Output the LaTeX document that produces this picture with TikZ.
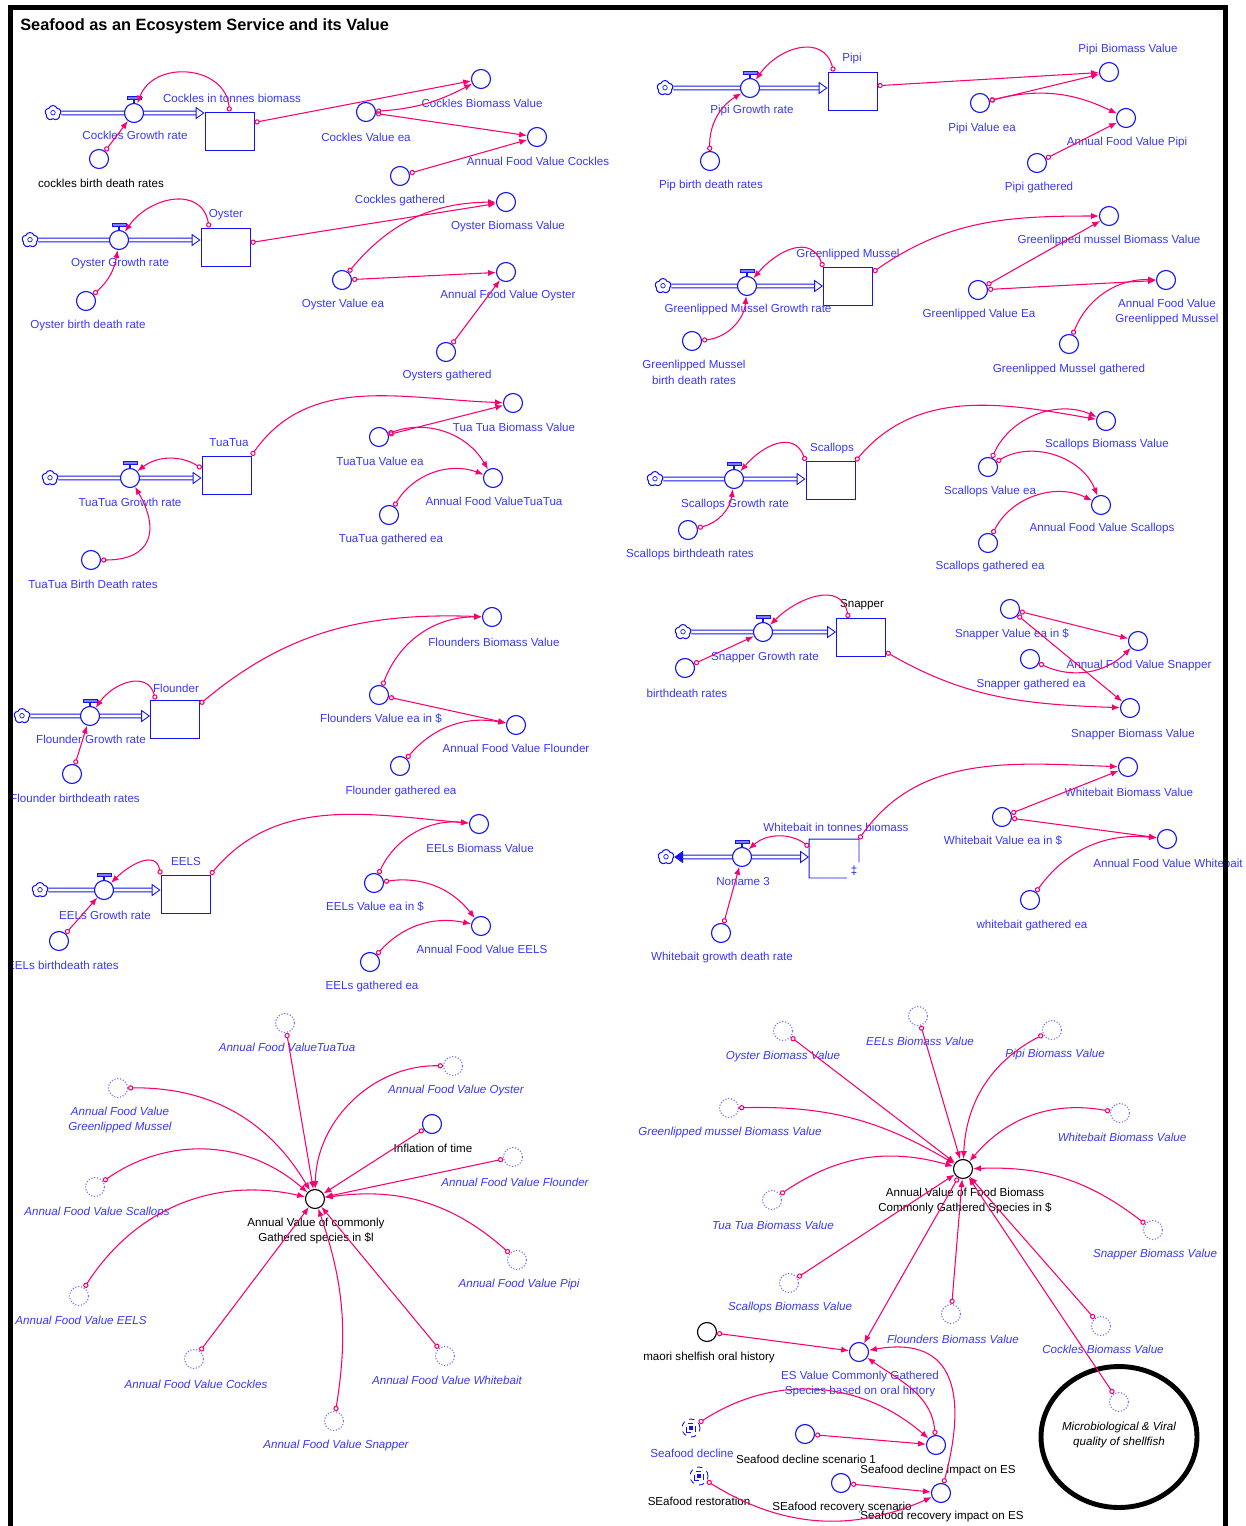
\documentclass[tikz,border=0pt]{standalone}
\usepackage{fontspec}
\setmainfont{Liberation Sans}
\usepackage{tikz}
\usetikzlibrary{arrows.meta,calc,positioning,shapes.geometric,shapes.symbols}
\definecolor{StockBlue}{RGB}{20,20,240}
\definecolor{LabelBlue}{RGB}{55,55,255}
\definecolor{GhostBlue}{RGB}{110,110,255}
\definecolor{LinkPink}{RGB}{250,0,110}
\newcommand{\lblsize}{\fontsize{6.6}{9}\selectfont}
\newcommand{\flowvalve}[2]{%
  \node[conv] (#1) at (#2) {};
  \draw[StockBlue,line width=0.9pt] (#1.north) -- ++(0,2.2pt);
  \draw[StockBlue,fill=StockBlue!55,line width=0.5pt]
    ([shift={(-4pt,2.2pt)}]#1.north) rectangle ++(8pt,1.7pt);
}
\newcommand{\auxvar}[5][lbl]{%
  \node[auxv] (#2) at (#3) {};
  \node[#1] (#2-l) at (#4) {#5};
}
\newcommand{\ghostvar}[4]{%
  \node[ghostv] (#1) at (#2) {};
  \node[glbl] (#1-l) at (#3) {#4};
}

\begin{document}
\begin{tikzpicture}[x=0.02cm,y=-0.02cm,
  auxv/.style={circle,draw=StockBlue,line width=0.65pt,minimum size=0.38cm,inner sep=0pt,fill=white},
  conv/.style={auxv},
  sum/.style={auxv,draw=black},
  ghostv/.style={circle,draw=GhostBlue,densely dotted,line width=0.65pt,minimum size=0.38cm,inner sep=0pt},
  tablev/.style={circle,draw=StockBlue,dashed,line width=0.5pt,minimum size=0.36cm,inner sep=0pt,
    path picture={
      \draw[StockBlue,line width=0.9pt] ([shift={(-2.6pt,-2.6pt)}]path picture bounding box.center) rectangle ++(5.2pt,5.2pt);
      \fill[StockBlue] ([shift={(-1pt,-1.3pt)}]path picture bounding box.center) rectangle ++(2pt,2.6pt);}},
  stock/.style={rectangle,draw=StockBlue,line width=0.55pt,minimum width=0.98cm,minimum height=0.76cm,inner sep=0pt},
  source/.style={cloud,cloud puffs=5,cloud puff arc=140,draw=StockBlue,line width=0.6pt,
    minimum width=0.32cm,minimum height=0.3cm,inner sep=0pt,
    path picture={\draw[StockBlue,line width=0.4pt] (path picture bounding box.center) circle (1.3pt);}},
  pipe/.style={draw=StockBlue,double=white,double distance=1.6pt,line width=0.5pt,-{Triangle[open,length=5pt,width=7pt]}},
  link/.style={draw=LinkPink,line width=0.6pt,{Circle[open,length=3pt]}-{Latex[length=4.5pt,width=3.5pt]}},
  lbl/.style={text=LabelBlue,font=\lblsize,align=center,inner sep=0pt},
  blbl/.style={lbl,text=black},
  glbl/.style={lbl,font=\lblsize\itshape}]
\useasboundingbox (0,0) rectangle (1246,1526);
\node[anchor=west,inner sep=0pt,font=\bfseries\fontsize{9.3}{11}\selectfont] (title) at (20,26)
  {Seafood as an Ecosystem Service and its Value};

% cockles
\node[source] (cc) at (53,113) {};
\node[stock] (cst) at (229.5,131) {};
\draw[pipe] (cc) -- (cst.west |- cc);
\flowvalve{cgr}{134,113}
\node[lbl] (cst-l) at (232,98) {Cockles in tonnes biomass};
\node[lbl] (cgr-l) at (135,135) {Cockles Growth rate};
\auxvar[blbl]{cbd}{99,159}{101,183}{cockles birth death rates}
\auxvar{cbv}{481,79}{482,103}{Cockles Biomass Value}
\auxvar{cve}{366,112}{366,137}{Cockles Value ea}
\auxvar{cafv}{537,137}{538,161}{Annual Food Value Cockles}
\auxvar{cga}{400,176}{400,200}{Cockles gathered}
\draw[link] (cbd) -- (cgr);
\draw[link] (cst.north) to[out=95,in=70,looseness=1.3] (cgr);
\draw[link] (cst.19) -- (cbv);
\draw[link] (cve) to[bend right=12] (cbv);
\draw[link] (cve) -- (cafv);
\draw[link] (cga) -- (cafv);

% oyster
\node[source] (oc) at (30,240) {};
\node[stock] (ost) at (225.5,247) {};
\draw[pipe] (oc) -- (ost.west |- oc);
\flowvalve{ogr}{119,240}
\node[lbl] (ost-l) at (226,215) {Oyster};
\node[lbl] (ogr-l) at (120,263) {Oyster Growth rate};
\auxvar{obd}{86,301}{88,325}{Oyster birth death rate}
\auxvar{obv}{506,202}{508,226}{Oyster Biomass Value}
\auxvar{ove}{342,280}{343,304}{Oyster Value ea}
\auxvar{oafv}{506,272}{508,295}{Annual Food Value Oyster}
\auxvar{oga}{446,352}{447,375}{Oysters gathered}
\draw[link] (obd) to[bend right=20] (ogr);
\draw[link] (ost.130) to[out=100,in=55,looseness=1.3] (ogr);
\draw[link] (ost.10) -- (obv);
\draw[link] (ove) to[bend left=25] (obv);
\draw[link] (ove) -- (oafv);
\draw[link] (oga) -- (oafv);

% tuatua
\node[source] (tc) at (50,478) {};
\node[stock] (tst) at (226.5,475) {};
\draw[pipe] (tc) -- (tst.west |- tc);
\flowvalve{tgr}{130,478}
\node[lbl] (tst-l) at (229,443) {TuaTua};
\node[lbl] (tgr-l) at (130,502) {TuaTua Growth rate};
\auxvar{tbd}{91,560}{93,584}{TuaTua Birth Death rates}
\auxvar{tbv}{513,403}{514,427}{Tua Tua Biomass Value}
\auxvar{tve}{379,437}{380,461}{TuaTua Value ea}
\auxvar{tafv}{493,478}{494,501}{Annual Food ValueTuaTua}
\auxvar{tga}{389,515}{391,539}{TuaTua gathered ea}
\draw[link] (tbd) to[out=0,in=-60,looseness=1.6] (tgr);
\draw[link] (tst.165) to[bend right=35] (tgr);
\draw[link] (tst.north east) to[out=55,in=178] (tbv);
\draw[link] (tve) -- (tbv);
\draw[link] (tve) to[bend left=40] (tafv);
\draw[link] (tga) to[bend left=40] (tafv);

% flounder
\node[source] (fc) at (22,716) {};
\node[stock] (fst) at (175,719) {};
\draw[pipe] (fc) -- (fst.west |- fc);
\flowvalve{fgr}{90,716}
\node[lbl] (fst-l) at (176,688) {Flounder};
\node[lbl] (fgr-l) at (91,739) {Flounder Growth rate};
\auxvar{fbd}{72,774}{75,798}{Flounder birthdeath rates}
\auxvar{fbv}{492,617}{494,642}{Flounders Biomass Value}
\auxvar{fve}{379,695}{381,719}{Flounders Value ea in \$}
\auxvar{fafv}{516,725}{516,748}{Annual Food Value Flounder}
\auxvar{fga}{400,766}{401,791}{Flounder gathered ea}
\draw[link] (fbd) -- (fgr);
\draw[link] (fst.135) to[out=105,in=55,looseness=1.3] (fgr);
\draw[link] (fst.31) to[out=40,in=178] (fbv);
\draw[link] (fve) to[bend left=35] (fbv);
\draw[link] (fve) -- (fafv);
\draw[link] (fga) to[bend left=30] (fafv);

% eels
\node[source] (ec) at (40,890) {};
\node[stock] (est) at (185.5,894) {};
\draw[pipe] (ec) -- (est.west |- ec);
\flowvalve{egr}{104,890}
\node[lbl] (est-l) at (186,861) {EELS};
\node[lbl] (egr-l) at (105,915) {EELs Growth rate};
\auxvar{ebd}{59,941}{63,965}{EELs birthdeath rates}
\auxvar{ebv}{479,824}{480,848}{EELs Biomass Value}
\auxvar{eve}{374,883}{375,907}{EELs Value ea in \$}
\auxvar{eafv}{481,926}{482,949}{Annual Food Value EELS}
\auxvar{ega}{370,962}{372,986}{EELs gathered ea}
\draw[link] (ebd) -- (egr);
\draw[link] (est.north west) to[out=100,in=45,looseness=1.3] (egr);
\draw[link] (est.north east) to[out=50,in=175] (ebv);
\draw[link] (eve) to[bend left=35] (ebv);
\draw[link] (eve) to[bend left=30] (eafv);
\draw[link] (ega) to[bend left=30] (eafv);

% pipi
\node[source] (pc) at (665,88) {};
\node[stock] (pst) at (852.5,91) {};
\draw[pipe] (pc) -- (pst.west |- pc);
\flowvalve{pgr}{750,88}
\node[lbl] (pst-l) at (852,58) {Pipi};
\node[lbl] (pgr-l) at (752,110) {Pipi Growth rate};
\auxvar{pbd}{710,161}{711,185}{Pip birth death rates}
\auxvar{pbv}{1109,72}{1128,49}{Pipi Biomass Value}
\auxvar{pve}{980,103}{982,128}{Pipi Value ea}
\auxvar{pafv}{1126,118}{1127,142}{Annual Food Value Pipi}
\auxvar{pga}{1037,163}{1039,187}{Pipi gathered}
\draw[link] (pbd) to[bend left=30] (pgr);
\draw[link] (pst.134) to[out=105,in=55,looseness=1.3] (pgr);
\draw[link] (pst.12) -- (pbv);
\draw[link] (pve) -- (pbv);
\draw[link] (pve) to[bend left=20] (pafv);
\draw[link] (pga) -- (pafv);

% greenlipped mussel
\node[source] (gc) at (663,286) {};
\node[stock] (gst) at (848,286.5) {};
\draw[pipe] (gc) -- (gst.west |- gc);
\flowvalve{ggr}{747,286}
\node[lbl] (gst-l) at (848,254) {Greenlipped Mussel};
\node[lbl] (ggr-l) at (748,309) {Greenlipped Mussel Growth rate};
\auxvar{gbd}{692,341}{694,372}{Greenlipped Mussel\\birth death rates}
\auxvar{gbv}{1109,216}{1109,240}{Greenlipped mussel Biomass Value}
\auxvar{gve}{978,290}{979,314}{Greenlipped Value Ea}
\auxvar{gafv}{1166,280}{1167,312}{Annual Food Value\\Greenlipped Mussel}
\auxvar{gga}{1069,344}{1069,369}{Greenlipped Mussel gathered}
\draw[link] (gbd) to[bend right=40] (ggr);
\draw[link] (gst.north west) to[out=110,in=50,looseness=1.3] (ggr);
\draw[link] (gst.30) to[out=35,in=180] (gbv);
\draw[link] (gve) -- (gbv);
\draw[link] (gve) -- (gafv);
\draw[link] (gga) to[bend left=35] (gafv);

% scallops
\node[source] (sc) at (655,479) {};
\node[stock] (sst) at (830.5,480.5) {};
\draw[pipe] (sc) -- (sst.west |- sc);
\flowvalve{sgr}{734,479}
\node[lbl] (sst-l) at (832,448) {Scallops};
\node[lbl] (sgr-l) at (735,504) {Scallops Growth rate};
\auxvar{sbd}{688,530}{690,554}{Scallops birthdeath rates}
\auxvar{sbv}{1106,421}{1107,444}{Scallops Biomass Value}
\auxvar{sve}{988,467}{990,491}{Scallops Value ea}
\auxvar{safv}{1101,505}{1102,528}{Annual Food Value Scallops}
\auxvar{sga}{988,543}{990,566}{Scallops gathered ea}
\draw[link] (sbd) to[bend right=35] (sgr);
\draw[link] (sst.north west) to[out=110,in=50,looseness=1.3] (sgr);
\draw[link] (sst.north east) to[out=50,in=170] (sbv);
\draw[link] (sve) to[bend left=45] (sbv);
\draw[link] (sve) to[bend left=50] (safv);
\draw[link] (sga) to[bend left=45] (safv);

% snapper
\node[source] (nc) at (683,632) {};
\node[stock] (nst) at (861,637.5) {};
\draw[pipe] (nc) -- (nst.west |- nc);
\flowvalve{ngr}{763,632}
\node[blbl] (nst-l) at (862,605) {Snapper};
\node[lbl] (ngr-l) at (765,657) {Snapper Growth rate};
\auxvar{nbd}{685,668}{687,693}{birthdeath rates}
\auxvar{nve}{1010,609}{1012,634}{Snapper Value ea in \$}
\auxvar{nga}{1030,659}{1031,684}{Snapper gathered ea}
\auxvar{nafv}{1138,641}{1139,665}{Annual Food Value Snapper}
\auxvar{nbv}{1130,708}{1133,734}{Snapper Biomass Value}
\draw[link] (nbd) -- (ngr);
\draw[link] (nst.123) to[out=100,in=45,looseness=1.25] (ngr);
\draw[link] (nve) -- (nafv);
\draw[link] (nve) -- (nbv);
\draw[link] (nga) to[bend right=35] (nafv);
\draw[link] (nst.-30) to[out=-30,in=178] (nbv);

% whitebait
\node[source] (wc) at (666,857) {};
\node[stock,draw=none] (wst) at (834,858.5) {};
\draw[StockBlue,line width=0.55pt] ($(wst.north east)!0.6!(wst.south east)$) -- (wst.north east)
  -- (wst.north west) -- (wst.south west) -- ($(wst.south west)!0.76!(wst.south east)$);
\node[lbl,text=StockBlue] (wst-q) at (854,871) {‡};
\draw[pipe,{Triangle[length=5pt,width=7pt]}-{Triangle[open,length=5pt,width=7pt]}] (wc) -- (wst.west |- wc);
\flowvalve{wgr}{742,857}
\node[lbl] (wst-l) at (836,827) {Whitebait in tonnes biomass};
\node[lbl] (wgr-l) at (743,881) {Noname 3};
\auxvar{wbd}{721,933}{722,957}{Whitebait growth death rate}
\auxvar{wbv}{1128,767}{1129,792}{Whitebait Biomass Value}
\auxvar{wve}{1002,817}{1003,841}{Whitebait Value ea in \$}
\auxvar{wafv}{1167,839}{1168,863}{Annual Food Value Whitebait}
\auxvar{wga}{1030,900}{1032,925}{whitebait gathered ea}
\draw[link] (wbd) -- (wgr);
\draw[link] (wst.155) to[bend right=40] (wgr);
\draw[link] (wst.north east) to[out=55,in=178] (wbv);
\draw[link] (wve) -- (wbv);
\draw[link] (wve) -- (wafv);
\draw[link] (wga) to[bend left=30] (wafv);

% annual value of gathered species
\node[sum] (avc) at (315,1199) {};
\node[blbl] (avc-l) at (316,1231) {Annual Value of commonly\\Gathered species in \$l};
\ghostvar{att}{285,1023}{287,1047}{Annual Food ValueTuaTua}
\ghostvar{aoy}{453,1066}{456,1090}{Annual Food Value Oyster}
\ghostvar{agm}{118,1088}{120,1120}{Annual Food Value\\Greenlipped Mussel}
\auxvar[blbl]{inf}{432,1124}{433,1148}{Inflation of time}
\ghostvar{afl}{513,1157}{515,1182}{Annual Food Value Flounder}
\ghostvar{asc}{95,1187}{97,1212}{Annual Food Value Scallops}
\ghostvar{app}{517,1260}{519,1284}{Annual Food Value Pipi}
\ghostvar{aee}{79,1296}{81,1320}{Annual Food Value EELS}
\ghostvar{aco}{194,1359}{196,1384}{Annual Food Value Cockles}
\ghostvar{awb}{445,1356}{447,1380}{Annual Food Value Whitebait}
\ghostvar{asn}{334,1421}{336,1445}{Annual Food Value Snapper}
\draw[link] (att) -- (avc);
\draw[link] (aoy) to[bend right=45] (avc);
\draw[link] (agm) to[bend left=30] (avc);
\draw[link] (inf) -- (avc);
\draw[link] (afl) -- (avc);
\draw[link] (asc) to[bend left=38] (avc);
\draw[link] (aee) to[bend left=35] (avc);
\draw[link] (app) to[bend right=25] (avc);
\draw[link] (aco) -- (avc);
\draw[link] (awb) -- (avc);
\draw[link] (asn) to[bend right=14] (avc);

% annual value of food biomass
\node[sum] (bvc) at (963,1169) {};
\node[blbl] (bvc-l) at (965,1201) {Annual Value of Food Biomass\\Commonly Gathered Species in \$};
\ghostvar{boy}{783,1031}{783,1056}{Oyster Biomass Value}
\ghostvar{bee}{918,1016}{920,1041}{EELs Biomass Value}
\ghostvar{bpp}{1052,1030}{1055,1054}{Pipi Biomass Value}
\ghostvar{bgm}{729,1108}{730,1132}{Greenlipped mussel Biomass Value}
\ghostvar{bwb}{1120,1113}{1122,1137}{Whitebait Biomass Value}
\ghostvar{btt}{772,1200}{773,1225}{Tua Tua Biomass Value}
\ghostvar{bsn}{1153,1230}{1155,1254}{Snapper Biomass Value}
\ghostvar{bsc}{789,1283}{790,1307}{Scallops Biomass Value}
\ghostvar{bfl}{951,1314}{953,1339}{Flounders Biomass Value}
\ghostvar{bco}{1101,1326}{1103,1349}{Cockles Biomass Value}
\node[font=\lblsize\itshape,align=center,inner sep=0pt] (mvq) at (1119,1435) {Microbiological \& Viral\\quality of shellfish};
\draw[line width=2.8pt] (1119,1437) ellipse [x radius=1.56cm, y radius=1.41cm];
\node[ghostv] (bmv) at (1119,1402) {};
\draw[link] (boy) -- (bvc);
\draw[link] (bee) -- (bvc);
\draw[link] (bpp) to[bend right=30] (bvc);
\draw[link] (bgm) to[bend left=16] (bvc);
\draw[link] (bwb) to[bend right=30] (bvc);
\draw[link] (btt) to[bend left=25] (bvc);
\draw[link] (bsn) to[bend right=20] (bvc);
\draw[link] (bsc) -- (bvc);
\draw[link] (bfl) -- (bvc);
\draw[link] (bco) -- (bvc);
\draw[link] (bmv) -- (bvc);

% oral history and scenarios
\node[sum] (mso) at (707,1332) {};
\node[blbl] (mso-l) at (709,1357) {maori shelfish oral history};
\auxvar{esv}{859,1352}{860,1384}{ES Value Commonly Gathered\\Species based on oral hirtory}
\node[tablev] (sdc) at (691,1428) {};
\node[lbl] (sdc-l) at (692,1453) {Seafood decline};
\auxvar[blbl,fill=white]{sds}{805,1434}{806,1459}{Seafood decline scenario 1}
\auxvar[blbl,fill=white]{sdi}{936,1445}{938,1470}{Seafood decline impact on ES}
\node[tablev] (srs) at (699,1476) {};
\node[blbl] (srs-l) at (699,1501) {SEafood restoration};
\auxvar[blbl]{srv}{841,1483}{842,1507}{SEafood recovery scenario}
\auxvar[blbl,fill=white]{sri}{941,1493}{942,1516}{Seafood recovery impact on ES}
\draw[link] (bvc) -- (esv);
\draw[link] (mso) -- (esv);
\draw[link] (sdc) to[bend left=37] (sdi);
\draw[link] (sds) -- (sdi);
\draw[link] (sdi) to[out=95,in=-35] (esv);
\draw[link] (srs) to[bend right=28] (sri);
\draw[link] (srv) -- (sri);
\draw[link] (sri) to[out=75,in=10,looseness=1.5] (esv);

% frame
\draw[line width=0.1cm] (10.5,7.5) rectangle (1225,1545);
\end{tikzpicture}
\end{document}
